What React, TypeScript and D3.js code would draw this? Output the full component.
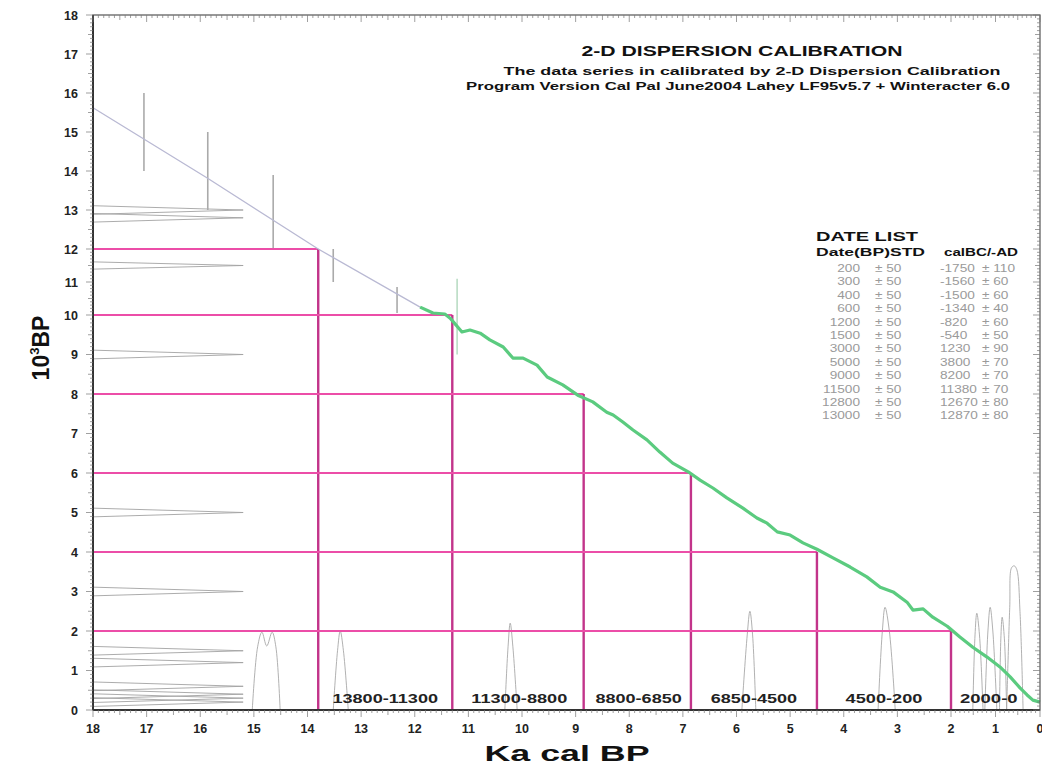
import * as d3 from "d3";

const W = 1042;
const H = 768;

// calibrated curve (Ka cal BP -> 10^3 BP), green part
const curveX = [11.9, 11.66, 11.44, 11.34, 11.12, 10.97, 10.78, 10.6, 10.35, 10.17, 9.98, 9.72, 9.53, 9.24, 8.96, 8.68, 8.42, 8.3, 8.12, 7.93, 7.67, 7.43, 7.19, 6.9, 6.68, 6.44, 6.18, 5.88, 5.62, 5.43, 5.24, 5.0, 4.76, 4.5, 4.2, 3.88, 3.57, 3.32, 3.08, 2.82, 2.71, 2.52, 2.34, 2.07, 1.8, 1.51, 1.19, 0.9, 0.67, 0.45, 0.29, 0.16, 0.0];
const curveY = [10.24, 10.06, 10.03, 9.92, 9.57, 9.62, 9.54, 9.37, 9.19, 8.91, 8.91, 8.73, 8.43, 8.23, 7.97, 7.8, 7.54, 7.47, 7.29, 7.09, 6.84, 6.53, 6.25, 6.03, 5.82, 5.62, 5.37, 5.11, 4.86, 4.73, 4.51, 4.43, 4.23, 4.07, 3.85, 3.62, 3.37, 3.11, 2.99, 2.73, 2.53, 2.56, 2.35, 2.12, 1.85, 1.59, 1.34, 1.09, 0.84, 0.56, 0.38, 0.25, 0.2];

// extrapolated part (thin gray)
const extraX = [18, 15.87, 13.8, 11.9];
const extraY = [15.62, 13.82, 12.0, 10.24];

// gray error bars
const barX = [17.05, 15.86, 14.64, 13.52, 12.33, 11.21];
const barLo = [14.0, 13.0, 12.0, 11.0, 10.06, 9.0];
const barHi = [16.0, 15.0, 13.9, 12.0, 10.85, 11.1];

// calibration bins
const binX = [13.8, 11.3, 8.85, 6.85, 4.5, 2.0];
const binY = [12, 10, 8, 6, 4, 2];
const binLabels = ["13800-11300", "11300-8800", "8800-6850", "6850-4500", "4500-200", "2000-0"];
const binLabelX = [12.55, 10.05, 7.825, 5.675, 3.25, 1.15];

// date list
const c14Dates = [200, 300, 400, 600, 1200, 1500, 3000, 5000, 9000, 11500, 12800, 13000];
const c14Std = [50, 50, 50, 50, 50, 50, 50, 50, 50, 50, 50, 50];
const calAD = [-1750, -1560, -1500, -1340, -820, -540, 1230, 3800, 8200, 11380, 12670, 12870];
const calStd = [110, 60, 60, 40, 60, 50, 90, 70, 70, 70, 80, 80];

// calibrated probability peaks on the x axis
const peaks = [
  { x: [15.03, 14.93, 14.85, 14.76, 14.66, 14.59, 14.51], y: [0, 1.6, 1.97, 1.62, 1.97, 1.6, 0] },
  { x: [13.52, 13.44, 13.39, 13.33, 13.24], y: [0, 1.5, 2.0, 1.5, 0] },
  { x: [10.32, 10.26, 10.22, 10.17, 10.09], y: [0, 1.6, 2.2, 1.6, 0] },
  { x: [5.9, 5.8, 5.75, 5.7, 5.64], y: [0, 1.9, 2.5, 1.9, 0] },
  { x: [3.36, 3.28, 3.23, 3.15, 3.04], y: [0, 2.0, 2.6, 2.0, 0] },
  { x: [1.51, 1.46, 1.42, 1.36, 1.28], y: [0, 1.9, 2.45, 1.9, 0] },
  { x: [1.24, 1.17, 1.12, 1.06, 0.97], y: [0, 2.0, 2.6, 2.0, 0] },
  { x: [0.91, 0.88, 0.85, 0.8, 0.75], y: [0, 1.8, 2.35, 1.8, 0] },
  { x: [0.75, 0.68, 0.64, 0.58, 0.52, 0.45, 0.38], y: [0, 2.6, 3.6, 3.65, 3.55, 2.5, 0] },
];

const xTicks = d3.range(0, 19);
const yTicks = d3.range(0, 19);
const minorTicks = d3.range(0, 181).map((i) => i / 10);

const FONT = "'Liberation Sans', Arial, sans-serif";
const SX = 1.3; // the scan is stretched sideways

export default function App() {
  // the scanned axes are slightly uneven, so the scales carry a few breakpoints
  const x = d3.scaleLinear().domain([18, 2, 0]).range([93, 951, 1040]);
  const y = d3.scaleLinear().domain([0, 10, 12, 18]).range([710, 315, 249, 15]);

  const left = x(18), right = x(0), top = y(18), bottom = y(0);

  const green = d3.line<number>().x((d) => x(d)).y((_, i) => y(curveY[i]));
  const gray = d3.line<number>().x((d) => x(d)).y((_, i) => y(extraY[i]));

  return (
    <svg width={W} height={H} style={{ position: "absolute", left: 0, top: 0, background: "#fff" }} fontFamily={FONT}>
      <rect width={W} height={H} fill="#fff" />

      {/* horizontal C14 distributions */}
      {c14Dates.map((d, i) => {
        const k = d / 1000;
        return (
          <path
            key={"h" + i}
            d={`M${left},${y(k + 0.11)}L${x(15.2)},${y(k)}L${left},${y(k - 0.11)}`}
            fill="none"
            stroke="#a3a3a3"
            strokeWidth={0.9}
          />
        );
      })}

      {/* calibrated peaks */}
      {peaks.map((p, i) => {
        const ln = d3.line<number>().x((d) => x(d)).y((_, j) => y(p.y[j])).curve(d3.curveCatmullRom);
        return <path key={"p" + i} d={ln(p.x) || ""} fill="none" stroke="#a8a8a8" strokeWidth={0.9} />;
      })}

      {/* error bars */}
      {barX.map((bx, i) => (
        <line key={"e" + i} x1={x(bx)} x2={x(bx)} y1={y(barLo[i])} y2={y(barHi[i])} stroke={i === 5 ? "#b9dcc4" : "#aaaaaa"} strokeWidth={1.6} />
      ))}

      {/* bins */}
      {binX.map((bx, i) => (
        <g key={"b" + i}>
          <line x1={left} x2={x(bx)} y1={y(binY[i])} y2={y(binY[i])} stroke="#ec4ea8" strokeWidth={2} />
          <line x1={x(bx)} x2={x(bx)} y1={y(binY[i])} y2={bottom} stroke="#c2348a" strokeWidth={2.4} />
        </g>
      ))}

      {/* curves */}
      <path d={gray(extraX) || ""} fill="none" stroke="#b9b9d3" strokeWidth={1.3} />
      <path d={green(curveX) || ""} fill="none" stroke="#5bcb7f" strokeWidth={3.2} strokeLinejoin="round" />

      {/* bin labels */}
      {binLabels.map((t, i) => (
        <text
          key={"l" + i}
          x={x(binLabelX[i])}
          y={bottom - 7}
          textAnchor="middle"
          fontSize={13.5}
          fontWeight="bold"
          fill="#222"
          textLength={t.length * 9.6}
          lengthAdjust="spacingAndGlyphs"
        >
          {t}
        </text>
      ))}

      {/* frame */}
      <rect x={left} y={top} width={right - left} height={bottom - top} fill="none" stroke="#555" strokeWidth={1.2} />
      <line x1={left} x2={right} y1={bottom} y2={bottom} stroke="#333" strokeWidth={2} />
      <line x1={left} x2={left} y1={top} y2={bottom} stroke="#333" strokeWidth={2} />

      {/* minor ticks */}
      {minorTicks.map((t, i) => {
        const len = i % 10 === 0 ? 7 : i % 5 === 0 ? 5 : 3;
        return (
          <g key={"m" + i} stroke="#777" strokeWidth={0.7}>
            <line x1={x(t)} x2={x(t)} y1={bottom} y2={bottom + len} />
            <line x1={x(t)} x2={x(t)} y1={top} y2={top + len} />
            <line x1={left - len} x2={left} y1={y(t)} y2={y(t)} />
            <line x1={right - len} x2={right} y1={y(t)} y2={y(t)} />
          </g>
        );
      })}

      {/* tick labels */}
      {xTicks.map((t) => (
        <text key={"x" + t} x={x(t)} y={bottom + 23} textAnchor="middle" fontSize={12.5} fontWeight="bold" fill="#222">
          {t}
        </text>
      ))}
      {yTicks.map((t) => (
        <text key={"y" + t} x={left - 15} y={y(t) + 4.5} textAnchor="end" fontSize={12.5} fontWeight="bold" fill="#222">
          {t}
        </text>
      ))}

      {/* axis titles */}
      <text x={567} y={761} textAnchor="middle" fontSize={22} fontWeight="bold" fill="#111" textLength={165} lengthAdjust="spacingAndGlyphs">
        Ka cal BP
      </text>
      <text transform="translate(49,348) rotate(-90)" textAnchor="middle" fontSize={23} fontWeight="bold" fill="#111">
        10<tspan dy={-10} fontSize={13}>3</tspan>
        <tspan dy={10}>BP</tspan>
      </text>

      {/* title block */}
      <text x={742} y={56} textAnchor="middle" fontSize={15.5} fontWeight="bold" fill="#111" textLength={321} lengthAdjust="spacingAndGlyphs">
        2-D DISPERSION CALIBRATION
      </text>
      <text x={752} y={75} textAnchor="middle" fontSize={11.5} fontWeight="bold" fill="#111" textLength={497} lengthAdjust="spacingAndGlyphs">
        The data series in calibrated by 2-D Dispersion Calibration
      </text>
      <text x={738} y={90} textAnchor="middle" fontSize={11.5} fontWeight="bold" fill="#111" textLength={544} lengthAdjust="spacingAndGlyphs">
        Program Version Cal Pal June2004 Lahey LF95v5.7 + Winteracter 6.0
      </text>

      {/* date list */}
      <text x={816} y={241} fontSize={12.5} fontWeight="bold" fill="#111" textLength={102} lengthAdjust="spacingAndGlyphs">
        DATE LIST
      </text>
      <text x={816} y={256} fontSize={11} fontWeight="bold" fill="#111" textLength={109} lengthAdjust="spacingAndGlyphs">
        Date(BP)STD
      </text>
      <text x={944} y={256} fontSize={11} fontWeight="bold" fill="#111" textLength={74} lengthAdjust="spacingAndGlyphs">
        calBC/-AD
      </text>
      <g transform={`scale(${SX},1)`} fontSize={10.5} fill="#9a9a9a">
        {c14Dates.map((d, i) => {
          const ty = 272 + i * 13.4;
          return (
            <g key={"d" + i}>
              <text x={860 / SX} y={ty} textAnchor="end">{d}</text>
              <text x={875 / SX} y={ty}>± {c14Std[i]}</text>
              <text x={940 / SX} y={ty}>{calAD[i]}</text>
              <text x={982 / SX} y={ty}>± {calStd[i]}</text>
            </g>
          );
        })}
      </g>
    </svg>
  );
}
